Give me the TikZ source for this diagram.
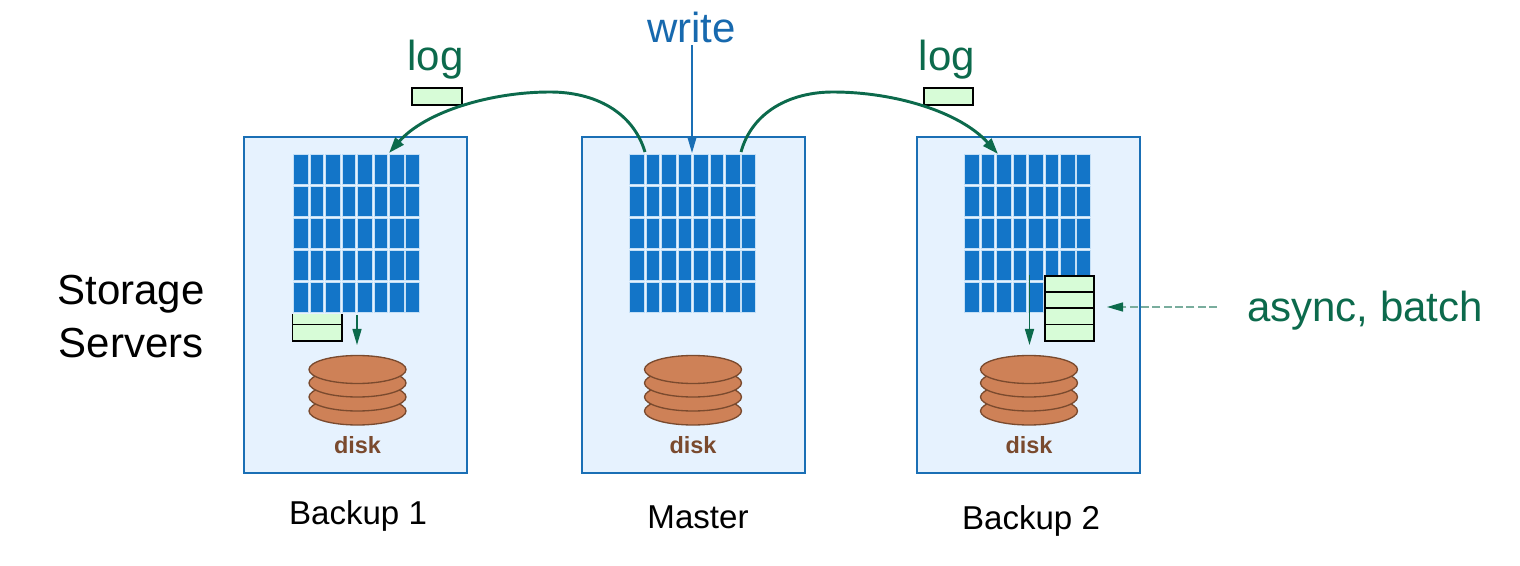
\documentclass[tikz,border=0pt]{standalone}
\usepackage{xcolor}
\usepackage{fontspec}
\setmainfont{Liberation Sans}
\usetikzlibrary{arrows.meta}
\definecolor{boxfill}{HTML}{E6F2FE}
\definecolor{boxline}{HTML}{1A6FB5}
\definecolor{cellblue}{HTML}{1375C8}
\definecolor{cellline}{HTML}{C4DFF6}
\definecolor{loggreen}{HTML}{D7FCD7}
\definecolor{darkgreen}{HTML}{0C6A4C}
\definecolor{diskfill}{HTML}{CE8157}
\definecolor{diskline}{HTML}{7A4A2E}
\definecolor{writeblue}{HTML}{1769AE}
\tikzset{
  serverbox/.style={draw=boxline,fill=boxfill,line width=1.4pt},
  cellbox/.style={draw=cellline,fill=cellblue,line width=0.6pt},
  logbox/.style={draw=black,fill=loggreen,line width=1.4pt},
  platter/.style={draw=diskline,fill=diskfill,line width=1pt},
  bigtext/.style={font=\fontsize{31.5}{39.75}\selectfont,inner sep=0pt},
  nametext/.style={font=\fontsize{24.8}{30}\selectfont,inner sep=0pt,anchor=base},
  disktext/.style={font=\fontsize{17.6}{20}\selectfont\bfseries,text=diskline,inner sep=0pt,anchor=base},
  logcurve/.style={draw=darkgreen,line width=2.2pt,-{Triangle[length=12pt,width=8pt]}},
  thinarrow/.style={draw=darkgreen,line width=1.1pt,-{Triangle[length=12pt,width=6.75pt]}}
}
% one server: box left edge, grid left edge, disk centre
\newcommand{\storageserver}[4]{
\draw[serverbox] (#2,137) rectangle (#2+223,473);
\foreach \ya/\yb in {154/184.3,186/216.3,218/248,250/280,282/312.3}
  \foreach \xa/\xb in {0/15,17/30.5,32/47.5,49/62.5,64/79.5,81/94.5,96/111,112.5/126}
    \draw[cellbox] (#3+\xa,\ya) rectangle (#3+\xb,\yb);
\foreach \yd in {411,397,383,369.5}
  \draw[platter] (#4,\yd) ellipse[x radius=48.5,y radius=14];
\node[disktext] (#1disk) at (#4,453) {disk};
}
\begin{document}
\begin{tikzpicture}[x=0.75pt,y=-0.75pt]
\useasboundingbox (0,0) rectangle (1520,566);
\storageserver{backupa}{244}{293}{357.5}
\storageserver{master}{582}{629}{693}
\storageserver{backupb}{917}{964}{1029}
% buffer below the first grid, open at the top
\fill[loggreen] (292.5,314) rectangle (342,341);
\draw[logbox,fill=none] (292.5,314) -- (292.5,341) -- (342,341) -- (342,314);
\draw[logbox] (292.5,324.5) -- (342,324.5);

\node[bigtext,anchor=base] (write) at (691.5,43) {\textcolor{writeblue}{write}};
\node[bigtext,anchor=base] (loga) at (435.5,71) {\textcolor{darkgreen}{log}};
\node[bigtext,anchor=base] (logb) at (947,71) {\textcolor{darkgreen}{log}};
\node[bigtext,align=center] (storage) at (131,317) {Storage\\Servers};
\node[bigtext,anchor=base] (async) at (1365,322) {\textcolor{darkgreen}{async, batch}};
\node[nametext] (namea) at (358,524) {Backup 1};
\node[nametext] (nameb) at (698,528) {Master};
\node[nametext] (namec) at (1031,529) {Backup 2};

\node[logbox,minimum width=37pt,minimum height=12.5pt,inner sep=0pt] (logboxa) at (437,96.5) {};
\node[logbox,minimum width=37pt,minimum height=12.5pt,inner sep=0pt] (logboxb) at (948.5,96.5) {};

% stack in the last server
\draw[logbox] (1045,276) rectangle (1094,341);
\foreach \yl in {292,308,324.5}
  \draw[logbox] (1045,\yl) -- (1094,\yl);

\coordinate (curveaout) at (645,152);
\coordinate (curveain) at (389,153);
\coordinate (curvebout) at (741,152);
\coordinate (curvebin) at (998,154);
\coordinate (writetop) at (692,45);
\coordinate (writeend) at (692,153);
\coordinate (diskaout) at (357,315);
\coordinate (diskain) at (357,345);
\coordinate (diskbout) at (1029.5,275);
\coordinate (diskbin) at (1029.5,345);
\coordinate (asyncout) at (1217,307);
\coordinate (asyncin) at (1107,307);

\draw[logcurve] (curveaout) .. controls (633,112) and (595,92) .. (550,92)
  .. controls (490,92) and (425,112) .. (curveain);
\draw[logcurve] (curvebout) .. controls (752,112) and (790,92) .. (833,92)
  .. controls (895,92) and (960,112) .. (curvebin);
\draw[draw=boxline,line width=1.1pt,-{Triangle[length=12pt,width=6.75pt]}] (writetop) -- (writeend);
\draw[thinarrow] (diskaout) -- (diskain);
\draw[thinarrow] (diskbout) -- (diskbin);
\draw[draw=darkgreen!55,line width=1.1pt,dash pattern=on 6pt off 2.5pt,-{Triangle[length=12pt,width=6.75pt,color=darkgreen]}] (asyncout) -- (asyncin);
\end{tikzpicture}
\end{document}
